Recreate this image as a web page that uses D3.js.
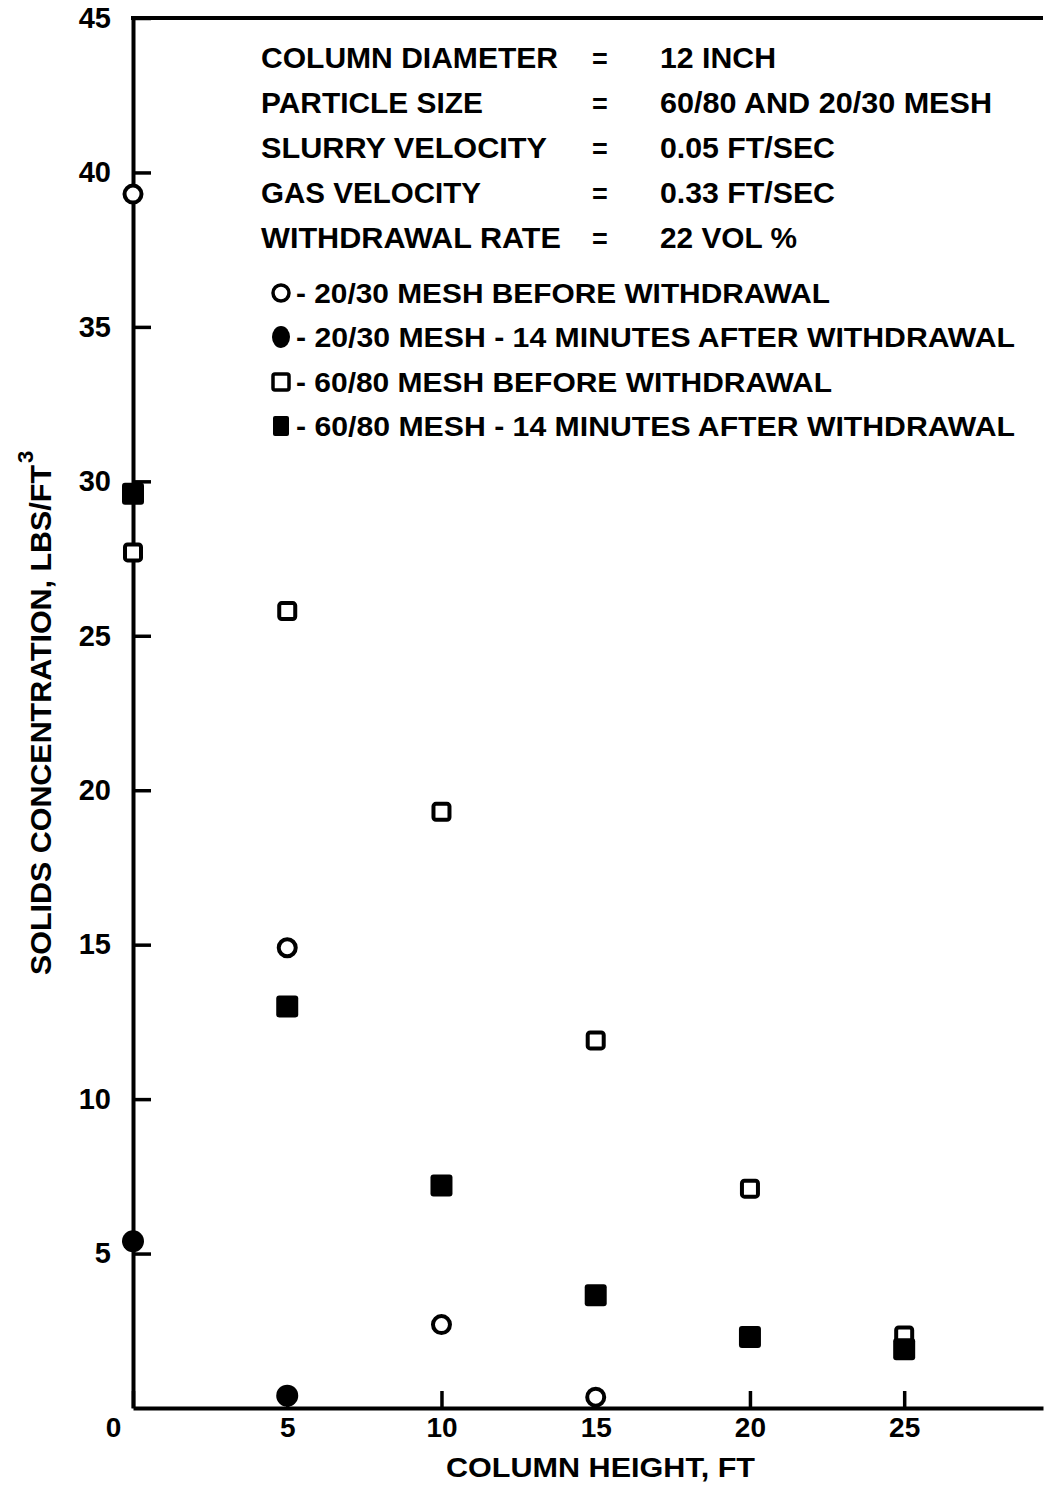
<!DOCTYPE html>
<html><head><meta charset="utf-8">
<script src="https://cdn.jsdelivr.net/npm/d3@7"></script>
<style>
body{margin:0;background:#fff}
svg{display:block}
text{font-family:"Liberation Sans",Arial,Helvetica,sans-serif;font-weight:bold;fill:#000}
</style>
</head><body>
<svg id="c" width="1044" height="1495"></svg>
<script>
// ---------- data ----------
const xTicks = [0, 5, 10, 15, 20, 25];
const yTicks = [5, 10, 15, 20, 25, 30, 35, 40, 45];

const h2030Before = [0, 5, 10, 15];
const c2030Before = [39.3, 14.9, 2.7, 0.35];
const h2030After = [0, 5];
const c2030After = [5.4, 0.4];
const h6080Before = [0, 5, 10, 15, 20, 25];
const c6080Before = [27.7, 25.8, 19.3, 11.9, 7.1, 2.35];
const h6080After = [0, 5, 10, 15, 20, 25];
const c6080After = [29.6, 13.0, 7.2, 3.65, 2.3, 1.9];

const seriesNames = [
  "- 20/30 MESH BEFORE WITHDRAWAL",
  "- 20/30 MESH - 14 MINUTES AFTER WITHDRAWAL",
  "- 60/80 MESH BEFORE WITHDRAWAL",
  "- 60/80 MESH - 14 MINUTES AFTER WITHDRAWAL"
];
const seriesTypes = ["openCircle", "filledCircle", "openSquare", "filledSquare"];

const infoLabels = ["COLUMN DIAMETER", "PARTICLE SIZE", "SLURRY VELOCITY", "GAS VELOCITY", "WITHDRAWAL RATE"];
const infoValues = ["12 INCH", "60/80 AND 20/30 MESH", "0.05 FT/SEC", "0.33 FT/SEC", "22 VOL %"];

const xTitle = "COLUMN HEIGHT, FT";
const yTitle = "SOLIDS CONCENTRATION, LBS/FT";
const ySup = "3";

// ---------- layout ----------
const infoLabelWidths = [297, 222, 286, 220, 300];
const infoValueWidths = [116, 332, 175, 175, 137];
const legendWidths = [534, 719, 536, 719];

const svg = d3.select("#c");
const x = d3.scaleLinear().domain([0, 29.5]).range([133, 1043]);
const y = d3.scaleLinear().domain([0, 45]).range([1408, 18]);

// top border
svg.append("line")
  .attr("x1", x(0) - 2).attr("x2", x(29.5))
  .attr("y1", y(45)).attr("y2", y(45))
  .attr("stroke", "#000").attr("stroke-width", 4);

// y axis
const gy = svg.append("g").attr("transform", `translate(${x(0)},0)`)
  .call(d3.axisLeft(y).tickValues(yTicks).tickSizeInner(-18).tickSizeOuter(0).tickPadding(22).tickFormat(d3.format("d")));
gy.select(".domain").attr("stroke-width", 4).attr("stroke", "#000");
gy.selectAll(".tick line").attr("stroke-width", 3.5).attr("stroke", "#000");
gy.selectAll(".tick text").style("font-size", "29px").attr("fill", "#000");

// x axis
const gx = svg.append("g").attr("transform", `translate(0,${y(0)})`)
  .call(d3.axisBottom(x).tickValues(xTicks).tickSizeInner(-17).tickSizeOuter(0).tickPadding(9).tickFormat(d3.format("d")));
gx.select(".domain").attr("stroke-width", 4).attr("stroke", "#000");
gx.selectAll(".tick line").attr("stroke-width", 3.5).attr("stroke", "#000");
gx.selectAll(".tick text").style("font-size", "28px").attr("fill", "#000")
  .attr("dx", d => d === 0 ? -20 : 0);

// axis titles
svg.append("text")
  .attr("x", 446).attr("y", 1477)
  .attr("textLength", 309).attr("lengthAdjust", "spacingAndGlyphs")
  .style("font-size", "27px").text(xTitle);

const yt = svg.append("g").attr("transform", "translate(51,975) rotate(-90)");
yt.append("text").attr("x", 0).attr("y", 0)
  .attr("textLength", 510).attr("lengthAdjust", "spacingAndGlyphs")
  .style("font-size", "29px").text(yTitle);
yt.append("text").attr("x", 512).attr("y", -18)
  .style("font-size", "22px").text(ySup);

// markers
function drawMarker(sel, type) {
  if (type === "openCircle") {
    sel.append("circle").attr("r", 8.5).attr("fill", "#fff").attr("stroke", "#000").attr("stroke-width", 4);
  } else if (type === "filledCircle") {
    sel.append("circle").attr("r", 11).attr("fill", "#000");
  } else if (type === "openSquare") {
    sel.append("rect").attr("x", -8).attr("y", -8).attr("width", 16).attr("height", 16).attr("rx", 2.5)
      .attr("fill", "#fff").attr("stroke", "#000").attr("stroke-width", 4);
  } else {
    sel.append("rect").attr("x", -11).attr("y", -11).attr("width", 22).attr("height", 22).attr("rx", 3)
      .attr("fill", "#000");
  }
}

const seriesData = [
  [h2030Before, c2030Before],
  [h2030After, c2030After],
  [h6080Before, c6080Before],
  [h6080After, c6080After]
];
seriesData.forEach(([hs, cs], i) => {
  const pts = hs.map((h, j) => ({ h, c: cs[j] }));
  svg.append("g").selectAll("g").data(pts).join("g")
    .attr("transform", d => `translate(${x(d.h)},${y(d.c)})`)
    .each(function () { drawMarker(d3.select(this), seriesTypes[i]); });
});

// info block
const infoRowY = [68, 113, 158, 203, 248];
infoLabels.forEach((t, i) => {
  svg.append("text").attr("x", 261).attr("y", infoRowY[i])
    .attr("textLength", infoLabelWidths[i]).attr("lengthAdjust", "spacingAndGlyphs")
    .style("font-size", "29px").text(t);
  svg.append("text").attr("x", 600).attr("y", infoRowY[i]).attr("text-anchor", "middle")
    .style("font-size", "27px").text("=");
  svg.append("text").attr("x", 660).attr("y", infoRowY[i])
    .attr("textLength", infoValueWidths[i]).attr("lengthAdjust", "spacingAndGlyphs")
    .style("font-size", "29px").text(infoValues[i]);
});

// legend
const legRowY = [293, 337, 382, 426];
seriesNames.forEach((t, i) => {
  const g = svg.append("g").attr("transform", `translate(281,${legRowY[i]})`);
  if (seriesTypes[i] === "openCircle") {
    g.append("circle").attr("r", 8).attr("fill", "#fff").attr("stroke", "#000").attr("stroke-width", 3.5);
  } else if (seriesTypes[i] === "filledCircle") {
    g.append("ellipse").attr("rx", 9).attr("ry", 11).attr("fill", "#000");
  } else if (seriesTypes[i] === "openSquare") {
    g.append("rect").attr("x", -8).attr("y", -8).attr("width", 16).attr("height", 16).attr("rx", 2)
      .attr("fill", "#fff").attr("stroke", "#000").attr("stroke-width", 3.5);
  } else {
    g.append("rect").attr("x", -8).attr("y", -10).attr("width", 16).attr("height", 20).attr("rx", 2).attr("fill", "#000");
  }
  svg.append("text").attr("x", 296).attr("y", legRowY[i] + 10)
    .attr("textLength", legendWidths[i]).attr("lengthAdjust", "spacingAndGlyphs")
    .style("font-size", "27px").text(t);
});
</script>
</body></html>
